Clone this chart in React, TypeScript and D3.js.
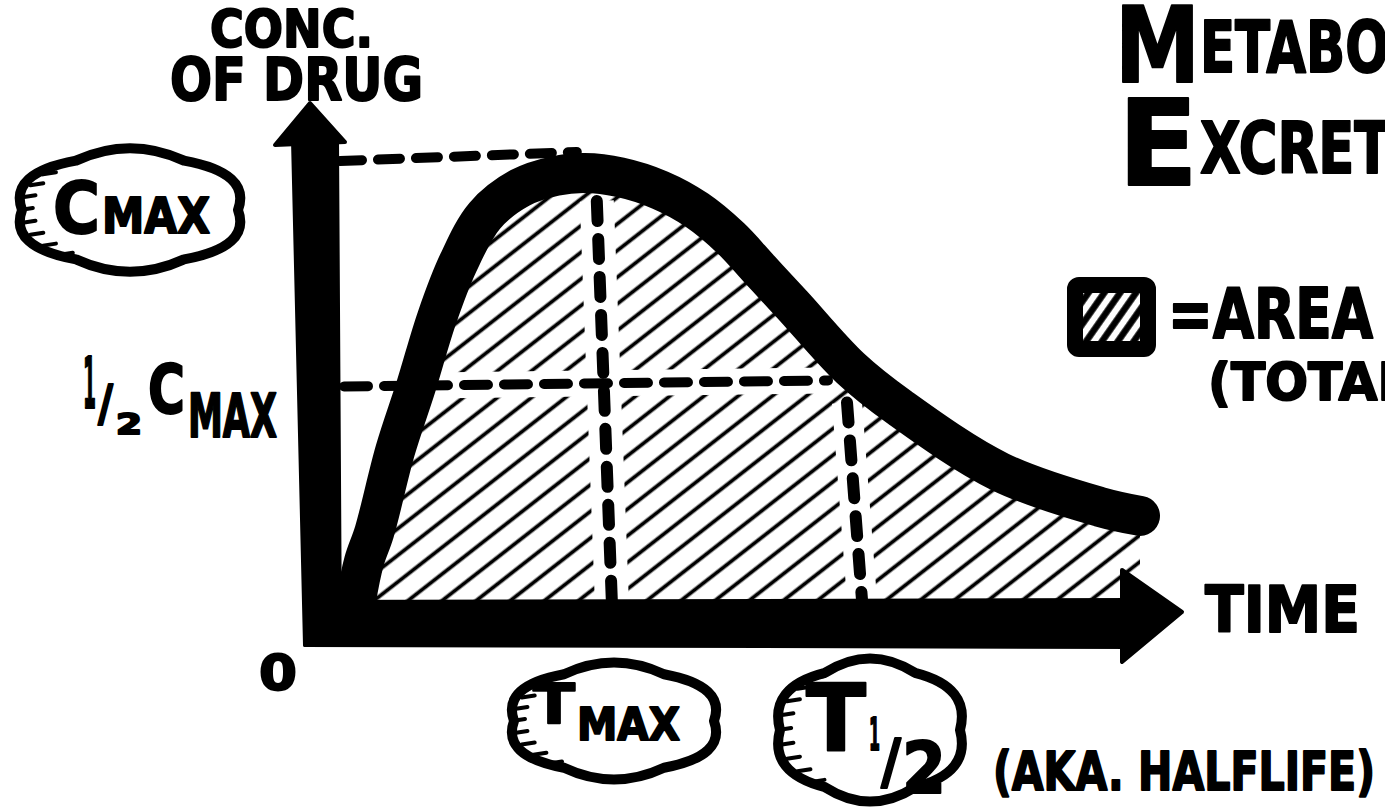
import * as d3 from "d3";
import { useEffect, useRef } from "react";

const W = 1385;
const H = 811;

// values: time (arbitrary units) vs concentration (fraction of Cmax)
const times = [0.2, 0.3, 0.43, 0.69, 0.95, 1.21, 1.48, 1.81, 2.25, 2.69, 3.06, 3.5, 4.0, 4.46, 4.88, 5.25, 5.66, 6.38, 7.0, 8.25, 9.5, 10.0];
const conc = [0, 0.09, 0.16, 0.35, 0.5, 0.66, 0.79, 0.9, 0.965, 0.993, 1.0, 0.99, 0.96, 0.913, 0.848, 0.773, 0.69, 0.543, 0.45, 0.3, 0.218, 0.197];
const tMax = 3.06;
const cMax = 1.0;
const tHalf = 6.45;
const halfLevel = 0.5;

const axisLabels = ["CONC.", "OF DRUG", "TIME", "0"];
const titleLines = [["M", "ETABOLISM"], ["E", "XCRETION"]];
const legendLines = ["=AREA UNDER CURVE", "(TOTAL EXPOSURE)"];
const note = "(AKA. HALFLIFE)";

interface Pt {
  t: number;
  c: number;
}

interface Part {
  s: string;
  x: number;
  y: number;
  size: number;
  len: number;
}

const FONT = "'DejaVu Sans', 'Liberation Sans', sans-serif";

const App = () => {
  const svgRef = useRef<SVGSVGElement | null>(null);

  useEffect(() => {
    const svg = d3.select(svgRef.current);
    svg.selectAll("*").remove();

    const x = d3.scaleLinear().domain([0, 10]).range([340, 1140]);
    const y = d3.scaleLinear().domain([0, 1]).range([600, 173]);
    const data: Pt[] = times.map((t, i) => ({ t, c: conc[i] }));

    const defs = svg.append("defs");
    defs
      .append("pattern")
      .attr("id", "hatch")
      .attr("patternUnits", "userSpaceOnUse")
      .attr("width", 20)
      .attr("height", 21)
      .attr("patternTransform", "rotate(-38)")
      .append("line")
      .attr("x1", 0)
      .attr("x2", 20)
      .attr("y1", 10.5)
      .attr("y2", 10.5)
      .attr("stroke", "#000")
      .attr("stroke-width", 3.8);
    defs
      .append("pattern")
      .attr("id", "hatchSmall")
      .attr("patternUnits", "userSpaceOnUse")
      .attr("width", 12)
      .attr("height", 13)
      .attr("patternTransform", "rotate(-55)")
      .append("line")
      .attr("x1", 0)
      .attr("x2", 12)
      .attr("y1", 6.5)
      .attr("y2", 6.5)
      .attr("stroke", "#000")
      .attr("stroke-width", 6.5);

    svg.append("rect").attr("width", W).attr("height", H).attr("fill", "#fff");

    const curve = d3.curveCatmullRom.alpha(0.5);

    // hatched area under the curve
    const area = d3
      .area<Pt>()
      .x((d) => x(d.t))
      .y0(y(0))
      .y1((d) => y(d.c))
      .curve(curve);
    svg.append("path").datum(data).attr("d", area).attr("fill", "url(#hatch)");

    // dashed guides
    const guides = [
      { a: [x(0), y(cMax) - 12], b: [x(tMax) - 8, y(cMax) - 21], w: 10, dash: "22 16", halo: 0 },
      { a: [x(0) + 4, y(halfLevel)], b: [x(tHalf) - 28, y(halfLevel) - 6], w: 10, dash: "24 16", halo: 26 },
      { a: [x(tMax) + 12, y(cMax) + 28], b: [x(tMax) + 27, y(0)], w: 12, dash: "20 18", halo: 34 },
      { a: [x(tHalf) - 9, y(halfLevel) + 16], b: [x(tHalf) + 6, y(0)], w: 12, dash: "20 18", halo: 30 },
    ];
    guides
      .filter((g) => g.halo > 0)
      .forEach((g) => {
        svg
          .append("line")
          .attr("x1", g.a[0])
          .attr("y1", g.a[1])
          .attr("x2", g.b[0])
          .attr("y2", g.b[1])
          .attr("stroke", "#fff")
          .attr("stroke-width", g.halo);
      });
    guides.forEach((g) => {
      svg
        .append("line")
        .attr("x1", g.a[0])
        .attr("y1", g.a[1])
        .attr("x2", g.b[0])
        .attr("y2", g.b[1])
        .attr("stroke", "#000")
        .attr("stroke-width", g.w)
        .attr("stroke-dasharray", g.dash)
        .attr("stroke-linecap", "round");
    });

    // the concentration curve
    const line = d3
      .line<Pt>()
      .x((d) => x(d.t))
      .y((d) => y(d.c))
      .curve(curve);
    svg
      .append("path")
      .datum(data)
      .attr("d", line)
      .attr("fill", "none")
      .attr("stroke", "#000")
      .attr("stroke-width", 40)
      .attr("stroke-linecap", "round")
      .attr("stroke-linejoin", "round");

    // arrow axes
    const x0 = x(0);
    const x1 = x(10);
    const y0 = y(0);
    const yTop = y(cMax);
    const polys: [number, number][][] = [
      [
        [x0 - 47, yTop - 33],
        [x0 - 3, yTop - 33],
        [x0, y0 + 45],
        [x0 - 35, y0 + 45],
      ],
      [
        [x0 - 30, yTop - 70],
        [x0 - 65, yTop - 28],
        [x0 + 5, yTop - 31],
      ],
      [
        [x0 - 35, y0 + 2],
        [x1 - 5, y0],
        [x1 - 5, y0 + 47],
        [x0 - 35, y0 + 45],
      ],
      [
        [x1 - 18, y0 - 30],
        [x1 + 42, y0 + 12],
        [x1 - 18, y0 + 62],
      ],
    ];
    polys.forEach((p) => {
      svg
        .append("polygon")
        .attr("points", p.map((q) => q.join(",")).join(" "))
        .attr("fill", "#000")
        .attr("stroke", "#000")
        .attr("stroke-width", 4)
        .attr("stroke-linejoin", "round");
    });

    // clouds
    const cloud = (cx: number, cy: number, rx: number, ry: number, n: number) => {
      const p = d3.path();
      const pt = (a: number, k: number) => [cx + rx * k * Math.cos(a), cy + ry * k * Math.sin(a)];
      const step = (Math.PI * 2) / n;
      const start = Math.PI;
      const s = pt(start, 1);
      p.moveTo(s[0], s[1]);
      for (let i = 0; i < n; i++) {
        const c = pt(start + step * (i + 0.5), 1.3);
        const e = pt(start + step * (i + 1), 1);
        p.quadraticCurveTo(c[0], c[1], e[0], e[1]);
      }
      p.closePath();
      svg
        .append("path")
        .attr("d", p.toString())
        .attr("fill", "#fff")
        .attr("stroke", "#000")
        .attr("stroke-width", 10)
        .attr("stroke-linejoin", "round");
      // fur ticks along the inner left edge
      d3.range(9).forEach((i) => {
        const a = Math.PI * (0.72 + i * 0.07);
        const e = pt(a, 1.02);
        svg
          .append("line")
          .attr("x1", e[0])
          .attr("y1", e[1])
          .attr("x2", e[0] + 13)
          .attr("y2", e[1] - 2)
          .attr("stroke", "#000")
          .attr("stroke-width", 4)
          .attr("stroke-linecap", "round");
      });
    };
    cloud(130, 210, 108, 57, 6);
    cloud(614, 721, 100, 54, 6);
    cloud(870, 730, 90, 66, 6);

    // legend swatch
    svg
      .append("rect")
      .attr("x", 1075)
      .attr("y", 285)
      .attr("width", 73)
      .attr("height", 64)
      .attr("rx", 4)
      .attr("fill", "url(#hatchSmall)")
      .attr("stroke", "#000")
      .attr("stroke-width", 16)
      .attr("stroke-linejoin", "round");

    // one text element, possibly made of several differently sized parts
    const txt = (parts: Part[]) => {
      const t = svg
        .append("text")
        .attr("font-family", FONT)
        .attr("font-weight", "bold")
        .attr("fill", "#000")
        .attr("stroke", "#000")
        .attr("stroke-width", 2)
        .attr("stroke-linejoin", "round");
      parts.forEach((p) => {
        t.append("tspan")
          .attr("x", p.x)
          .attr("y", p.y)
          .attr("font-size", p.size)
          .attr("textLength", p.len)
          .attr("lengthAdjust", "spacingAndGlyphs")
          .text(p.s);
      });
    };

    // axis labels
    txt([{ s: axisLabels[0], x: 210, y: 47, size: 51, len: 163 }]);
    txt([{ s: axisLabels[1], x: 170, y: 100, size: 59, len: 253 }]);
    txt([{ s: axisLabels[2], x: 1205, y: 632, size: 64, len: 155 }]);
    txt([{ s: axisLabels[3], x: 259, y: 690, size: 50, len: 38 }]);

    // Cmax cloud
    txt([
      { s: "C", x: 53, y: 233, size: 72, len: 47 },
      { s: "MAX", x: 102, y: 233, size: 49, len: 108 },
    ]);

    // 1/2 Cmax
    txt([
      { s: "1", x: 83, y: 408, size: 72, len: 13 },
      { s: "/", x: 98, y: 420, size: 50, len: 15 },
      { s: "2", x: 116, y: 434, size: 28, len: 26 },
      { s: "C", x: 148, y: 413, size: 68, len: 37 },
      { s: "MAX", x: 188, y: 437, size: 60, len: 89 },
    ]);

    // Tmax cloud
    txt([
      { s: "T", x: 533, y: 723, size: 55, len: 42 },
      { s: "MAX", x: 577, y: 740, size: 45, len: 103 },
    ]);

    // T1/2 cloud
    txt([
      { s: "T", x: 806, y: 750, size: 92, len: 60 },
      { s: "1", x: 869, y: 750, size: 45, len: 11 },
      { s: "/", x: 881, y: 782, size: 60, len: 20 },
      { s: "2", x: 902, y: 793, size: 72, len: 44 },
    ]);

    txt([{ s: note, x: 993, y: 790, size: 54, len: 382 }]);

    // title
    txt([
      { s: titleLines[0][0], x: 1115, y: 82, size: 105, len: 85 },
      { s: titleLines[0][1], x: 1200, y: 72, size: 71, len: 329 },
    ]);
    txt([
      { s: titleLines[1][0], x: 1118, y: 185, size: 120, len: 80 },
      { s: titleLines[1][1], x: 1200, y: 173, size: 72, len: 299 },
    ]);

    // legend text
    txt([{ s: legendLines[0], x: 1168, y: 338, size: 70, len: 654 }]);
    txt([{ s: legendLines[1], x: 1208, y: 400, size: 52, len: 545 }]);
  }, []);

  return (
    <svg
      ref={svgRef}
      width={W}
      height={H}
      style={{ position: "absolute", left: 0, top: 0, display: "block" }}
    ></svg>
  );
};

export default App;
